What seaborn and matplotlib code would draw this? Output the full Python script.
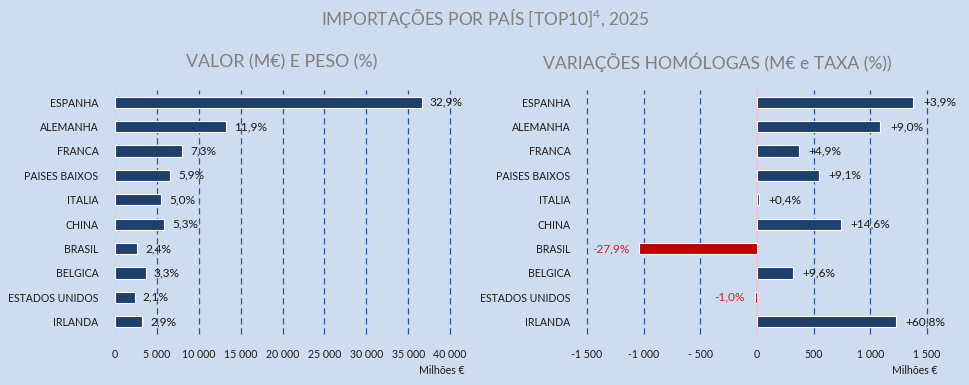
import numpy as np
import pandas as pd
import matplotlib
matplotlib.use("Agg")
import matplotlib.pyplot as plt
import seaborn as sns

# ─── Data ─────────────────────────────────────────────────────────────────────
COUNTRIES = ["ESPANHA", "ALEMANHA", "FRANCA", "PAISES BAIXOS", "ITALIA",
             "CHINA", "BRASIL", "BELGICA", "ESTADOS UNIDOS", "IRLANDA"]
VALUE_MEUR = [36600, 13240, 8050, 6520, 5450, 5800, 2620, 3640, 2330, 3170]
SHARE_PCT = ["32,9%", "11,9%", "7,3%", "5,9%", "5,0%",
             "5,3%", "2,4%", "3,3%", "2,1%", "2,9%"]
CHANGE_MEUR = [1378, 1087, 370, 543, 18, 742, -1040, 318, -22, 1225]
CHANGE_PCT = ["+3,9%", "+9,0%", "+4,9%", "+9,1%", "+0,4%",
              "+14,6%", "-27,9%", "+9,6%", "-1,0%", "+60,8%"]

LEFT_TICKS = [0, 5000, 10000, 15000, 20000, 25000, 30000, 35000, 40000]
LEFT_TICKLABELS = ["0", "5 000", "10 000", "15 000", "20 000",
                   "25 000", "30 000", "35 000", "40 000"]
RIGHT_TICKS = [-1500, -1000, -500, 0, 500, 1000, 1500]
RIGHT_TICKLABELS = ["-1 500", "-1 000", "- 500", "0", "500", "1 000", "1 500"]

TITLE = "IMPORTAÇÕES POR PAÍS [TOP10]$^4$, 2025"
SUB_LEFT = "VALOR (M€) E PESO (%)"
SUB_RIGHT = "VARIAÇÕES HOMÓLOGAS (M€ e TAXA (%))"
UNIT = "Milhões €"

# ─── Style ────────────────────────────────────────────────────────────────────
BG = "#CDDCEF"
NAVY = "#213F6B"
RED = "#C00000"
RED_TXT = "#D0202E"
GRID = "#2F5597"
ZERO = "#F2C4CC"
GRAY = "#7F7F7F"
DARK = "#1A1A1A"

sns.set_theme(style="white")
plt.rcParams["font.family"] = ["Lato", "DejaVu Sans"]
plt.rcParams["mathtext.fontset"] = "custom"
plt.rcParams["mathtext.rm"] = "Lato"
plt.rcParams["mathtext.it"] = "Lato"

df = pd.DataFrame({"pais": COUNTRIES, "valor": VALUE_MEUR, "var": CHANGE_MEUR})

fig = plt.figure(figsize=(9.7, 3.85), dpi=100, facecolor=BG)
ax1 = fig.add_axes([0.1186, 0.1325, 0.3454, 0.6338])
ax2 = fig.add_axes([0.6052, 0.1325, 0.3505, 0.6338])


def _style(ax, ticks, ticklabels, lim):
    ax.set_facecolor(BG)
    for s in ax.spines.values():
        s.set_visible(False)
    ax.set_xlim(*lim)
    ax.set_xticks(ticks)
    ax.set_xticklabels(ticklabels)
    ax.set_xlabel(""); ax.set_ylabel("")
    ax.tick_params(axis="both", length=0, labelsize=7.6, colors=DARK)
    ax.tick_params(axis="x", pad=11)
    ax.tick_params(axis="y", pad=12)
    for t in ticks:
        if t != 0:
            ax.axvline(t, color=GRID, lw=0.9, ls=(0, (5, 3)), zorder=0,
                       clip_on=False)
    ax.axvline(0, color=ZERO, lw=1.2, zorder=0.5)
    ax.set_ylim(9.5, -0.5)


# Left: value and share
sns.barplot(data=df, x="valor", y="pais", ax=ax1, color=NAVY, width=0.46,
            edgecolor="white", linewidth=0.8, saturation=1, orient="h", zorder=2)
_style(ax1, LEFT_TICKS, LEFT_TICKLABELS, (0, 40000))
ax1.bar_label(ax1.containers[0], labels=SHARE_PCT, padding=6,
              fontsize=8.6, color=DARK)

# Right: year-on-year change
cols = [NAVY if v >= 0 else RED for v in CHANGE_MEUR]
sns.barplot(data=df, x="var", y="pais", hue="pais", palette=cols, legend=False,
            ax=ax2, width=0.46, edgecolor="white", linewidth=0.8, saturation=1,
            orient="h", zorder=2)
_style(ax2, RIGHT_TICKS, RIGHT_TICKLABELS, (-1500, 1500))
for cont, lab, v in zip(ax2.containers, CHANGE_PCT, CHANGE_MEUR):
    ax2.bar_label(cont, labels=[lab], padding=7, fontsize=8.6,
                  color=DARK if v >= 0 else RED_TXT)

# Titles and units
fig.text(0.5, 0.953, TITLE, ha="center", va="center", fontsize=12.4, color=GRAY)
fig.text(0.290, 0.839, SUB_LEFT, ha="center", va="center", fontsize=12.8, color=GRAY)
fig.text(0.740, 0.839, SUB_RIGHT, ha="center", va="center", fontsize=12.6, color=GRAY)
fig.text(465 / 970, 1 - 371 / 385, UNIT, ha="right", va="center", fontsize=7.6, color=DARK)
fig.text(938 / 970, 1 - 371 / 385, UNIT, ha="right", va="center", fontsize=7.6, color=DARK)

fig.savefig("out.png", dpi=100, facecolor=BG)
